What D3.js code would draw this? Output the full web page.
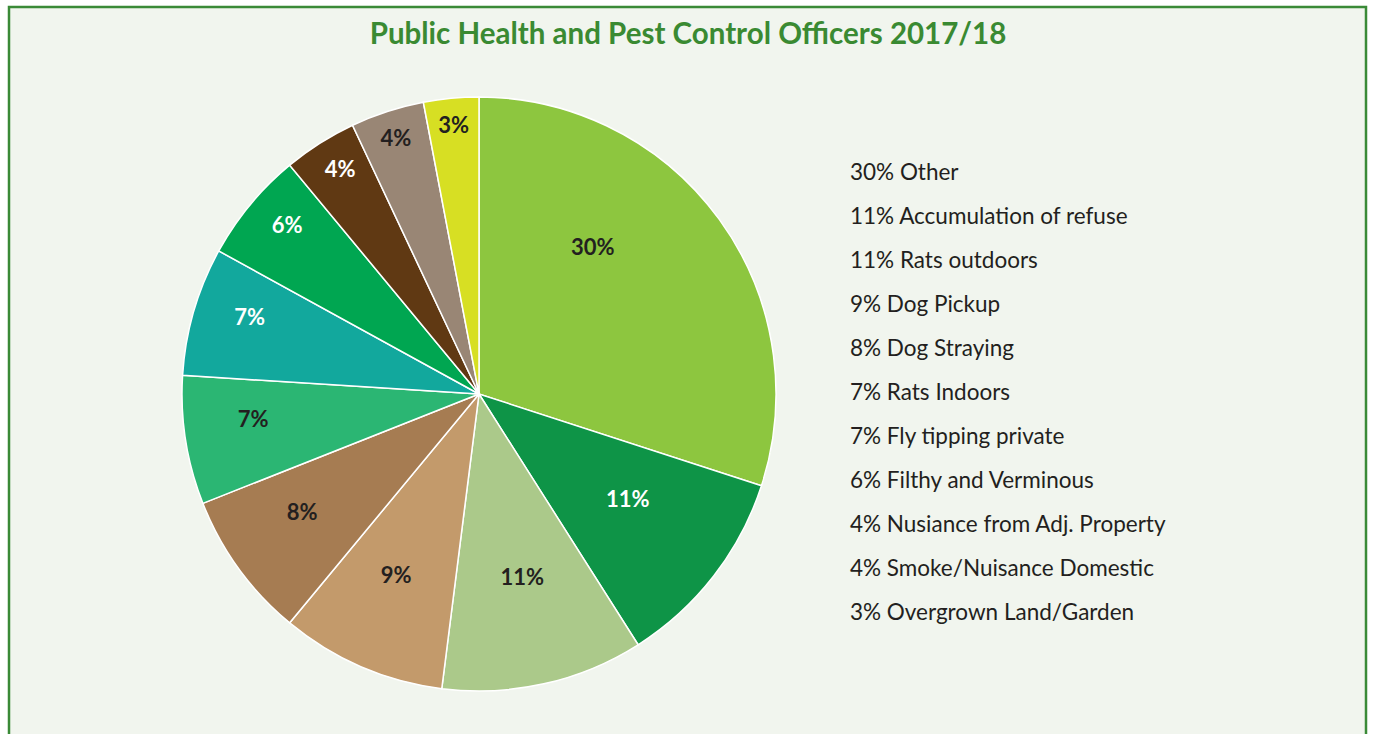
<!DOCTYPE html>
<html>
<head>
<meta charset="utf-8">
<script src="https://cdn.jsdelivr.net/npm/d3@7"></script>
<style>
    body {
        margin: 0;
        background: #ffffff;
        font-family: Lato, "Open Sans", sans-serif;
    }
    #chart .slice path {
        stroke: #ffffff;
        stroke-width: 1.5px;
    }
</style>
</head>
<body>
<div id="chart"></div>
<script>
    const categories = ["Other", "Accumulation of refuse", "Rats outdoors", "Dog Pickup", "Dog Straying",
        "Rats Indoors", "Fly tipping private", "Filthy and Verminous", "Nusiance from Adj. Property",
        "Smoke/Nuisance Domestic", "Overgrown Land/Garden"];
    const values = [30, 11, 11, 9, 8, 7, 7, 6, 4, 4, 3];
    const colors = ["#8dc63f", "#0e9447", "#abc98a", "#c39a6b", "#a67c52", "#2bb673",
        "#12a89d", "#00a651", "#603913", "#998675", "#d7df23"];
    const labelColors = ["#231f20", "#ffffff", "#231f20", "#231f20", "#231f20", "#231f20",
        "#ffffff", "#ffffff", "#ffffff", "#231f20", "#231f20"];

    const width = 1373, height = 734;
    const cx = 479, cy = 394, radius = 297;

    const svg = d3.select("#chart").append("svg")
        .attr("width", width)
        .attr("height", height);

    // panel background + green frame
    svg.append("rect")
        .attr("x", 9).attr("y", 7)
        .attr("width", 1357).attr("height", 740)
        .attr("fill", "#f1f5ee")
        .attr("stroke", "#3a8a37")
        .attr("stroke-width", 2.5);

    svg.append("text")
        .attr("x", 688).attr("y", 44)
        .attr("text-anchor", "middle")
        .attr("font-size", 29.5)
        .attr("font-weight", "bold")
        .attr("fill", "#3a8a32")
        .text("Public Health and Pest Control Officers 2017/18");

    const pie = d3.pie().sort(null).value(d => d);
    const arcs = pie(values);
    const arc = d3.arc().innerRadius(0).outerRadius(radius);

    const g = svg.append("g").attr("transform", `translate(${cx},${cy})`);

    const slices = g.selectAll(".slice")
        .data(arcs)
        .enter()
        .append("g")
        .attr("class", "slice");

    slices.append("path")
        .attr("d", arc)
        .attr("fill", (d, i) => colors[i]);

    // small slices get their labels pushed further out
    slices.append("text")
        .attr("transform", (d, i) => {
            const r = Math.min(radius * 0.91, radius * (0.6 + 0.034 * i));
            const a = (d.startAngle + d.endAngle) / 2 - (i === 0 ? 0.25 : 0);
            const lift = i >= 9 ? 0 : (i === 8 ? 6 : 10);
            return `translate(${Math.sin(a) * r},${-Math.cos(a) * r - lift})`;
        })
        .attr("text-anchor", "middle")
        .attr("dy", "0.35em")
        .attr("font-size", 22)
        .attr("font-weight", "bold")
        .attr("fill", (d, i) => labelColors[i])
        .text(d => d.data + "%");

    const legend = svg.append("g").attr("transform", "translate(850,0)");
    legend.selectAll("text")
        .data(categories)
        .enter()
        .append("text")
        .attr("x", 0)
        .attr("y", (d, i) => 180 + i * 44)
        .attr("font-size", 22.5)
        .attr("fill", "#231f20")
        .text((d, i) => values[i] + "% " + d);
</script>
</body>
</html>
